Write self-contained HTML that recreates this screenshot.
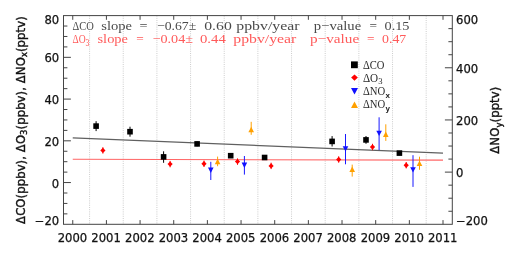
<!DOCTYPE html>
<html lang="en"><head><meta charset="utf-8"><title>Trend plot</title>
<style>html,body{margin:0;padding:0;background:#fff}body{width:520px;height:257px;overflow:hidden}svg{display:block;will-change:transform}.t{font-family:"DejaVu Sans", "Liberation Sans", sans-serif;font-size:11.6px;fill:#111;stroke:#111;stroke-width:.25px}.s{font-family:"Liberation Serif", "DejaVu Serif", serif;font-size:13px}.l{font-family:"Liberation Serif", "DejaVu Serif", serif;font-size:13px;fill:#2a2a2a}.b{font-family:"DejaVu Sans", "Liberation Sans", sans-serif;font-size:11.6px;fill:#111;stroke:#111;stroke-width:.4px}</style></head><body>
<svg width="520" height="257" viewBox="0 0 520 257">
<rect width="520" height="257" fill="#fff"/>
<path d="M89.58 15.6V224.3M123.24 15.6V224.3M156.90 15.6V224.3M190.56 15.6V224.3M224.22 15.6V224.3M257.88 15.6V224.3M291.54 15.6V224.3M325.20 15.6V224.3M358.86 15.6V224.3M392.52 15.6V224.3M426.18 15.6V224.3" stroke="#c0c0c0" stroke-width="0.8" stroke-dasharray="1 1.2" fill="none"/>
<line x1="72.75" y1="137.9" x2="443.01" y2="153.1" stroke="#606060" stroke-width="1.25"/>
<line x1="72.75" y1="159.3" x2="443.01" y2="160.1" stroke="#ff6666" stroke-width="1.05"/>
<rect x="63.5" y="15.6" width="388.8" height="208.7" fill="none" stroke="#444" stroke-width="1"/>
<path d="M72.75 224.3v-4.2M72.75 15.6v4.2M106.41 224.3v-4.2M106.41 15.6v4.2M140.07 224.3v-4.2M140.07 15.6v4.2M173.73 224.3v-4.2M173.73 15.6v4.2M207.39 224.3v-4.2M207.39 15.6v4.2M241.05 224.3v-4.2M241.05 15.6v4.2M274.71 224.3v-4.2M274.71 15.6v4.2M308.37 224.3v-4.2M308.37 15.6v4.2M342.03 224.3v-4.2M342.03 15.6v4.2M375.69 224.3v-4.2M375.69 15.6v4.2M409.35 224.3v-4.2M409.35 15.6v4.2M443.01 224.3v-4.2M443.01 15.6v4.2M63.5 213.86h3.9M63.5 203.43h3.9M63.5 193.00h3.9M63.5 182.56h7.4M63.5 172.12h3.9M63.5 161.69h3.9M63.5 151.26h3.9M63.5 140.82h7.4M63.5 130.39h3.9M63.5 119.95h3.9M63.5 109.52h3.9M63.5 99.08h7.4M63.5 88.65h3.9M63.5 78.21h3.9M63.5 67.77h3.9M63.5 57.34h7.4M63.5 46.91h3.9M63.5 36.47h3.9M63.5 26.04h3.9M452.3 211.26h-3.9M452.3 198.21h-3.9M452.3 185.17h-3.9M452.3 172.12h-7.4M452.3 159.08h-3.9M452.3 146.04h-3.9M452.3 132.99h-3.9M452.3 119.95h-7.4M452.3 106.91h-3.9M452.3 93.86h-3.9M452.3 80.82h-3.9M452.3 67.77h-7.4M452.3 54.73h-3.9M452.3 41.69h-3.9M452.3 28.64h-3.9" stroke="#444" stroke-width="1" fill="none"/>
<text class="t" x="72.45" y="241.6" text-anchor="middle">2000</text>
<text class="t" x="106.11" y="241.6" text-anchor="middle">2001</text>
<text class="t" x="139.77" y="241.6" text-anchor="middle">2002</text>
<text class="t" x="173.43" y="241.6" text-anchor="middle">2003</text>
<text class="t" x="207.09" y="241.6" text-anchor="middle">2004</text>
<text class="t" x="240.75" y="241.6" text-anchor="middle">2005</text>
<text class="t" x="274.41" y="241.6" text-anchor="middle">2006</text>
<text class="t" x="308.07" y="241.6" text-anchor="middle">2007</text>
<text class="t" x="341.73" y="241.6" text-anchor="middle">2008</text>
<text class="t" x="375.39" y="241.6" text-anchor="middle">2009</text>
<text class="t" x="409.05" y="241.6" text-anchor="middle">2010</text>
<text class="t" x="442.71" y="241.6" text-anchor="middle">2011</text>
<text class="t" x="59.2" y="23.6" text-anchor="end">80</text>
<text class="t" x="59.2" y="62.2" text-anchor="end">60</text>
<text class="t" x="59.2" y="104.0" text-anchor="end">40</text>
<text class="t" x="59.2" y="145.7" text-anchor="end">20</text>
<text class="t" x="59.2" y="187.5" text-anchor="end">0</text>
<text class="t" x="59.2" y="224.6" text-anchor="end">−20</text>
<text class="t" x="456" y="23.6">600</text>
<text class="t" x="456" y="72.7">400</text>
<text class="t" x="456" y="124.8">200</text>
<text class="t" x="456" y="177.0">0</text>
<text class="t" x="456" y="224.6">−200</text>
<text class="b" transform="translate(24.5 223.9) rotate(-90)" textLength="207.6" lengthAdjust="spacing">ΔCO(ppbv), ΔO<tspan dy="2.6" font-size="8.4px">3</tspan><tspan dy="-2.6">(ppbv), ΔNO</tspan><tspan dy="2.6" font-size="8.4px">x</tspan><tspan dy="-2.6">(pptv)</tspan></text>
<text class="b" transform="translate(499.2 153.7) rotate(-90)" textLength="67" lengthAdjust="spacing">ΔNO<tspan dy="2.6" font-size="8.4px">y</tspan><tspan dy="-2.6">(pptv)</tspan></text>
<g class="s" fill="#4a4a4a">
<text x="72.50" y="29.5" textLength="21.25" lengthAdjust="spacingAndGlyphs">ΔCO</text>
<text x="101.25" y="29.5" textLength="30.75" lengthAdjust="spacingAndGlyphs">slope</text>
<text x="139.50" y="29.5" textLength="8.00" lengthAdjust="spacingAndGlyphs">=</text>
<text x="157.00" y="29.5" textLength="39.25" lengthAdjust="spacingAndGlyphs">−0.67±</text>
<text x="204.25" y="29.5" textLength="27.50" lengthAdjust="spacingAndGlyphs">0.60</text>
<text x="236.25" y="29.5" textLength="63.25" lengthAdjust="spacingAndGlyphs">ppbv/year</text>
<text x="313.75" y="29.5" textLength="47.50" lengthAdjust="spacingAndGlyphs">p−value</text>
<text x="369.50" y="29.5" textLength="7.50" lengthAdjust="spacingAndGlyphs">=</text>
<text x="384.50" y="29.5" textLength="25.00" lengthAdjust="spacingAndGlyphs">0.15</text>
</g>
<g class="s" fill="#ff5a5a">
<text x="72.50" y="43.0" textLength="17.00" lengthAdjust="spacingAndGlyphs">ΔO<tspan dy="2.6" font-size="10.5px">3</tspan></text>
<text x="97.50" y="43.0" textLength="30.50" lengthAdjust="spacingAndGlyphs">slope</text>
<text x="136.25" y="43.0" textLength="7.50" lengthAdjust="spacingAndGlyphs">=</text>
<text x="152.50" y="43.0" textLength="40.50" lengthAdjust="spacingAndGlyphs">−0.04±</text>
<text x="200.00" y="43.0" textLength="25.75" lengthAdjust="spacingAndGlyphs">0.44</text>
<text x="233.25" y="43.0" textLength="63.00" lengthAdjust="spacingAndGlyphs">ppbv/year</text>
<text x="310.00" y="43.0" textLength="49.25" lengthAdjust="spacingAndGlyphs">p−value</text>
<text x="367.00" y="43.0" textLength="7.50" lengthAdjust="spacingAndGlyphs">=</text>
<text x="382.00" y="43.0" textLength="24.25" lengthAdjust="spacingAndGlyphs">0.47</text>
</g>
<rect x="351" y="61.4" width="6.8" height="6.8" fill="#000"/>
<path d="M354.5 74.4l3.4 3.2l-3.4 3.2l-3.4-3.2z" fill="#f00"/>
<path d="M351 88h7l-3.5 6.4z" fill="#1010ff"/>
<path d="M351 108.1h7l-3.5-6.7z" fill="#ffa000"/>
<text class="l" x="362.9" y="68.7" textLength="21.5" lengthAdjust="spacingAndGlyphs">ΔCO</text>
<text class="l" x="362.9" y="81.9" textLength="15.2" lengthAdjust="spacingAndGlyphs">ΔO</text>
<text x="378.2" y="84.3" font-size="8.6px" fill="#2a2a2a" font-family='"Liberation Serif", "DejaVu Serif", serif'>3</text>
<text class="l" x="362.9" y="95.1" textLength="22.3" lengthAdjust="spacingAndGlyphs">ΔNO</text>
<text x="385.6" y="97.6" font-size="8px" font-weight="bold" fill="#1a1a1a" font-family='"Liberation Sans", "DejaVu Sans", sans-serif'>x</text>
<text class="l" x="362.9" y="108.3" textLength="22.3" lengthAdjust="spacingAndGlyphs">ΔNO</text>
<text x="385.6" y="110.6" font-size="8px" font-weight="bold" fill="#1a1a1a" font-family='"Liberation Sans", "DejaVu Sans", sans-serif'>y</text>
<path d="M96.1 121.2V131.1" stroke="#000" stroke-width="1"/>
<rect x="93.3" y="123.3" width="5.6" height="5.6" fill="#000"/>
<path d="M130.0 126.7V136.7" stroke="#000" stroke-width="1"/>
<rect x="127.2" y="128.9" width="5.6" height="5.6" fill="#000"/>
<path d="M163.6 151.3V162.8" stroke="#000" stroke-width="1"/>
<rect x="160.8" y="154.1" width="5.6" height="5.6" fill="#000"/>
<path d="M197.1 141.5V146.3" stroke="#000" stroke-width="1"/>
<rect x="194.3" y="141.1" width="5.6" height="5.6" fill="#000"/>
<path d="M230.7 153.5V158.0" stroke="#000" stroke-width="1"/>
<rect x="227.9" y="152.9" width="5.6" height="5.6" fill="#000"/>
<path d="M264.6 155.5V159.5" stroke="#000" stroke-width="1"/>
<rect x="261.8" y="154.7" width="5.6" height="5.6" fill="#000"/>
<path d="M332.1 136.1V146.5" stroke="#000" stroke-width="1"/>
<rect x="329.3" y="138.6" width="5.6" height="5.6" fill="#000"/>
<path d="M366.0 136.0V143.8" stroke="#000" stroke-width="1"/>
<rect x="363.2" y="137.1" width="5.6" height="5.6" fill="#000"/>
<path d="M399.4 151.0V155.2" stroke="#000" stroke-width="1"/>
<rect x="396.6" y="150.3" width="5.6" height="5.6" fill="#000"/>
<path d="M102.9 147.2v6.4" stroke="#f00" stroke-width="1"/>
<path d="M102.9 147.7l2.6 2.7l-2.6 2.7l-2.6-2.7z" fill="#f00"/>
<path d="M170.1 160.9v6.4" stroke="#f00" stroke-width="1"/>
<path d="M170.1 161.4l2.6 2.7l-2.6 2.7l-2.6-2.7z" fill="#f00"/>
<path d="M204.0 160.6v6.4" stroke="#f00" stroke-width="1"/>
<path d="M204.0 161.1l2.6 2.7l-2.6 2.7l-2.6-2.7z" fill="#f00"/>
<path d="M237.5 158.4v6.4" stroke="#f00" stroke-width="1"/>
<path d="M237.5 158.9l2.6 2.7l-2.6 2.7l-2.6-2.7z" fill="#f00"/>
<path d="M271.1 162.7v6.4" stroke="#f00" stroke-width="1"/>
<path d="M271.1 163.2l2.6 2.7l-2.6 2.7l-2.6-2.7z" fill="#f00"/>
<path d="M338.7 156.3v6.4" stroke="#f00" stroke-width="1"/>
<path d="M338.7 156.8l2.6 2.7l-2.6 2.7l-2.6-2.7z" fill="#f00"/>
<path d="M372.5 143.8v6.4" stroke="#f00" stroke-width="1"/>
<path d="M372.5 144.3l2.6 2.7l-2.6 2.7l-2.6-2.7z" fill="#f00"/>
<path d="M406.2 162.0v6.4" stroke="#f00" stroke-width="1"/>
<path d="M406.2 162.5l2.6 2.7l-2.6 2.7l-2.6-2.7z" fill="#f00"/>
<path d="M210.8 161.8V180.0" stroke="#1818ff" stroke-width="1"/>
<path d="M208.0 167.6h5.6l-2.8 5.4z" fill="#1010ff"/>
<path d="M244.4 156.0V174.6" stroke="#1818ff" stroke-width="1"/>
<path d="M241.6 162.6h5.6l-2.8 5.4z" fill="#1010ff"/>
<path d="M345.5 134.0V164.3" stroke="#1818ff" stroke-width="1"/>
<path d="M342.7 146.2h5.6l-2.8 5.4z" fill="#1010ff"/>
<path d="M379.1 117.3V150.1" stroke="#1818ff" stroke-width="1"/>
<path d="M376.3 130.7h5.6l-2.8 5.4z" fill="#1010ff"/>
<path d="M413.0 155.2V186.9" stroke="#1818ff" stroke-width="1"/>
<path d="M410.2 167.2h5.6l-2.8 5.4z" fill="#1010ff"/>
<path d="M217.6 156.6V166.2" stroke="#ffa000" stroke-width="1"/>
<path d="M214.8 164.3h5.6l-2.8-5.5z" fill="#ffa000"/>
<path d="M251.2 121.8V134.8" stroke="#ffa000" stroke-width="1"/>
<path d="M248.4 132.3h5.6l-2.8-5.5z" fill="#ffa000"/>
<path d="M352.2 164.6V176.6" stroke="#ffa000" stroke-width="1"/>
<path d="M349.4 172.1h5.6l-2.8-5.5z" fill="#ffa000"/>
<path d="M385.8 124.3V140.9" stroke="#ffa000" stroke-width="1"/>
<path d="M383.0 136.9h5.6l-2.8-5.5z" fill="#ffa000"/>
<path d="M419.5 156.7V169.8" stroke="#ffa000" stroke-width="1"/>
<path d="M416.7 165.9h5.6l-2.8-5.5z" fill="#ffa000"/>
</svg></body></html>
